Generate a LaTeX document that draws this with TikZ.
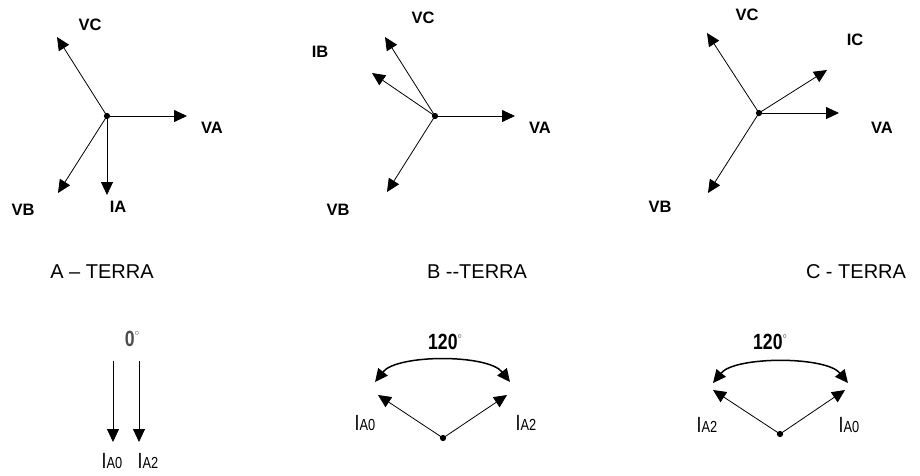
\documentclass[tikz,border=0pt]{standalone}
\usepackage{fontspec}
\setmainfont{Liberation Sans}
\newfontfamily\narrowfont[FakeStretch=0.8]{Liberation Sans}
\usetikzlibrary{arrows.meta}

\begin{document}
\begin{tikzpicture}[x=1pt,y=-1pt,
	vec/.style={line width=.8pt,-{Triangle[length=13pt,width=12pt]}},
	arcvec/.style={line width=1.5pt,{Triangle[length=13pt,width=12pt]}-{Triangle[length=13pt,width=12pt]}},
	dot/.style={circle,fill,inner sep=2.2pt},
	lbl/.style={font=\fontsize{16.5}{16.5}\selectfont\bfseries,inner sep=0pt},
	title/.style={font=\fontsize{20}{20}\selectfont,inner sep=0pt,anchor=base},
	cur/.style={font=\narrowfont\fontsize{22}{22}\selectfont,inner sep=0pt},
	ang/.style={font=\narrowfont\fontsize{22}{22}\selectfont\bfseries,inner sep=0pt}]
	\useasboundingbox (0,0) rectangle (920,475);
	
	% A - TERRA
	\node[dot] (oa) at (107,116) {};
	\coordinate (vaa) at (187,116);
	\coordinate (vca) at (57,37);
	\coordinate (vba) at (58,193);
	\coordinate (iaa) at (107,195);
	\draw[vec] (oa.center)--(vaa);
	\draw[vec] (oa.center)--(vca);
	\draw[vec] (oa.center)--(vba);
	\draw[vec] (oa.center)--(iaa);
	\node[lbl] at (90,25) {VC};
	\node[lbl] at (212,128) {VA};
	\node[lbl] at (23,210) {VB};
	\node[lbl] at (118,207) {IA};
	\node[title] at (102,278) {A -- TERRA};
	
	% B - TERRA
	\node[dot] (ob) at (435,116) {};
	\coordinate (vab) at (515,116);
	\coordinate (vcb) at (385,37);
	\coordinate (ibb) at (372,73);
	\coordinate (vbb) at (387,192);
	\draw[vec] (ob.center)--(vab);
	\draw[vec] (ob.center)--(vcb);
	\draw[vec] (ob.center)--(ibb);
	\draw[vec] (ob.center)--(vbb);
	\node[lbl] at (423,18) {VC};
	\node[lbl] at (320,52) {IB};
	\node[lbl] at (540,128) {VA};
	\node[lbl] at (338,210) {VB};
	\node[title] at (477,278) {B -{}-TERRA};
	
	% C - TERRA
	\node[dot] (oc) at (759,113) {};
	\coordinate (vac) at (839,113);
	\coordinate (vcc) at (707,33);
	\coordinate (icc) at (827,70);
	\coordinate (vbc) at (708,193);
	\draw[vec] (oc.center)--(vac);
	\draw[vec] (oc.center)--(vcc);
	\draw[vec] (oc.center)--(icc);
	\draw[vec] (oc.center)--(vbc);
	\node[lbl] at (747,15) {VC};
	\node[lbl] at (855,40) {IC};
	\node[lbl] at (882,128) {VA};
	\node[lbl] at (660,207) {VB};
	\node[title] at (856,278) {C - TERRA};
	
	% sequencias A
	\coordinate (s0) at (113,361);
	\coordinate (s2) at (139,361);
	\coordinate (e0) at (113,442);
	\coordinate (e2) at (139,442);
	\draw[vec] (s0)--(e0);
	\draw[vec] (s2)--(e2);
	\node[ang,text=black!70] at (132,339) {0\raisebox{.5em}{\fontsize{9}{9}\selectfont$\circ$}};
	\node[cur] at (112,461) {I{\fontsize{16}{16}\selectfont A0}};
	\node[cur] at (148,461) {I{\fontsize{16}{16}\selectfont A2}};
	
	% sequencias B
	\node[dot] (pb) at (443,438) {};
	\coordinate (lb) at (378,395);
	\coordinate (rb) at (507,395);
	\draw[vec] (pb.center)--(lb);
	\draw[vec] (pb.center)--(rb);
	\coordinate (alb) at (375,382);
	\coordinate (arb) at (510,382);
	\draw[arcvec] (alb) .. controls +(22,-28) and +(-22,-28) .. (arb);
	\node[ang] at (445,342) {120\raisebox{.5em}{\fontsize{8}{8}\selectfont$\circ$}};
	\node[cur] at (365,423) {I{\fontsize{16}{16}\selectfont A0}};
	\node[cur] at (526,423) {I{\fontsize{16}{16}\selectfont A2}};
	
	% sequencias C
	\node[dot] (pc) at (780,434) {};
	\coordinate (lc) at (713,390);
	\coordinate (rc) at (845,390);
	\draw[vec] (pc.center)--(lc);
	\draw[vec] (pc.center)--(rc);
	\coordinate (alc) at (713,383);
	\coordinate (arc) at (848,383);
	\draw[arcvec] (alc) .. controls +(22,-27) and +(-22,-27) .. (arc);
	\node[ang] at (770,342) {120\raisebox{.5em}{\fontsize{8}{8}\selectfont$\circ$}};
	\node[cur] at (707,425) {I{\fontsize{16}{16}\selectfont A2}};
	\node[cur] at (849,425) {I{\fontsize{16}{16}\selectfont A0}};
\end{tikzpicture}
\end{document}
